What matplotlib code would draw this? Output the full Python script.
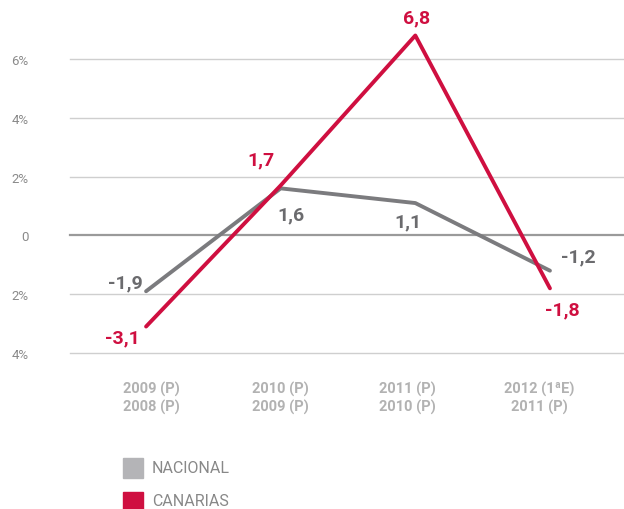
import numpy as np
import matplotlib
matplotlib.use("Agg")
import matplotlib.pyplot as plt

plt.rcParams['font.family'] = ['Roboto', 'DejaVu Sans']

categories = ["2009 (P)\n2008 (P)", "2010 (P)\n2009 (P)", "2011 (P)\n2010 (P)", "2012 (1ªE)\n2011 (P)"]
nacional = [-1.9, 1.6, 1.1, -1.2]
canarias = [-3.1, 1.7, 6.8, -1.8]
nacional_lbl = ["-1,9", "1,6", "1,1", "-1,2"]
canarias_lbl = ["-3,1", "1,7", "6,8", "-1,8"]
yticks = [-4, -2, 0, 2, 4, 6]
ytick_lbl = ["4%", "2%", "0", "2%", "4%", "6%"]

gray_line = "#7b7b7e"
gray_leg = "#b4b4b7"
red = "#cf0f40"

fig = plt.figure(figsize=(6.24, 5.10), dpi=100)
W, H = 624, 510
ax = fig.add_axes([70 / W, (H - 354) / H, 1 - 70 / W, (354 - 60) / H])
x = np.arange(len(categories))
ax.set_xlim(-0.565, 3.55)
ax.set_ylim(-4, 6)

for v in yticks:
    if v == 0:
        ax.axhline(v, color="#9a9a9a", lw=1.6, zorder=1, clip_on=False)
    else:
        ax.axhline(v, color="#cfcfcf", lw=1.0, zorder=1, clip_on=False)

ax.plot(x, nacional, color=gray_line, lw=2.8, solid_capstyle="round", clip_on=False, zorder=3)
ax.plot(x, canarias, color=red, lw=2.8, solid_capstyle="round", clip_on=False, zorder=4)

off_n = [(-21, 9), (10, -26), (-7, -18), (28, 14)]
off_c = [(-24, -11), (-20, 26), (1, 18), (12, -21)]
for i in range(4):
    ax.annotate(nacional_lbl[i], (x[i], nacional[i]), xytext=off_n[i], textcoords="offset pixels",
                ha="center", va="center", fontsize=14, fontweight="bold", color="#6b6b6e",
                annotation_clip=False)
    ax.annotate(canarias_lbl[i], (x[i], canarias[i]), xytext=off_c[i], textcoords="offset pixels",
                ha="center", va="center", fontsize=14, fontweight="bold", color=red,
                annotation_clip=False)

for s in ax.spines.values():
    s.set_visible(False)
ax.set_yticks(yticks)
ax.set_yticklabels(ytick_lbl)
ax.tick_params(axis="y", length=0, pad=30, labelsize=9.5, labelcolor="#8a8a8a")
ax.set_xticks(x + [0.04, 0.0, -0.06, -0.08])
ax.set_xticklabels(categories, fontsize=10.5, fontweight="bold", color="#b2b2b2", linespacing=1.25)
ax.tick_params(axis="x", length=0, pad=20)

# legend
fig.patches.append(plt.Rectangle((123 / W, (H - 479) / H), 20 / W, 20 / H, transform=fig.transFigure,
                                 color=gray_leg, figure=fig))
fig.patches.append(plt.Rectangle((123 / W, 0), 20 / W, (H - 493) / H, transform=fig.transFigure,
                                 color=red, figure=fig))
fig.text(152 / W, (H - 469) / H, "NACIONAL", fontsize=11.5, color="#888888", va="center")
fig.text(152 / W, (H - 502) / H, "CANARIAS", fontsize=11.5, color="#888888", va="center")

fig.savefig("out.png", dpi=100)
